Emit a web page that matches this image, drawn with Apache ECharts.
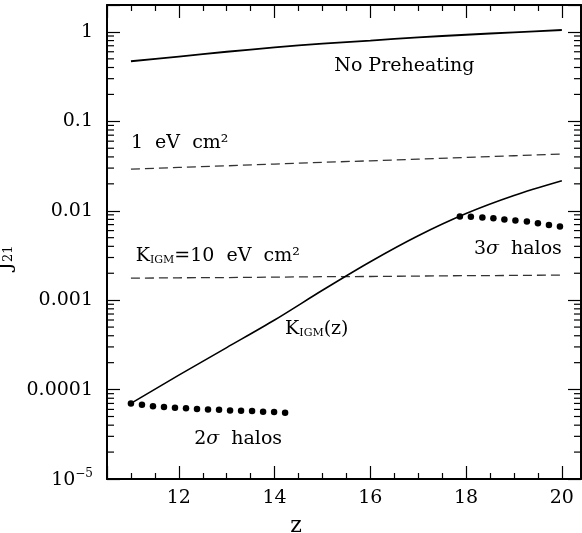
<!DOCTYPE html>
<html>
<head>
<meta charset="utf-8">
<script src="https://cdn.jsdelivr.net/npm/echarts@6/dist/echarts.min.js"></script>
<style>
  html, body { margin: 0; padding: 0; background: #fff; }
  #main { width: 582px; height: 533px; }
</style>
</head>
<body>
<div id="main"></div>
<script>
// redshift grid for the continuous curves
var zGrid = [11, 12, 13, 14, 15, 16, 17, 18, 19, 20];
var noPreheat = [0.47, 0.53, 0.60, 0.67, 0.74, 0.80, 0.87, 0.93, 0.99, 1.05];
var oneEv = [0.0292, 0.0305, 0.0318, 0.0333, 0.0348, 0.0362, 0.0378, 0.0395, 0.0412, 0.0431];
var tenEv = [0.00176, 0.00178, 0.00179, 0.00181, 0.00183, 0.00184, 0.00186, 0.00188, 0.00189, 0.00191];
var kIgmZ = [7.0e-5, 1.45e-4, 2.95e-4, 6.0e-4, 1.29e-3, 2.69e-3, 5.25e-3, 9.3e-3, 0.0148, 0.0216];

// halo points
var z2sig = [11.0, 11.23, 11.46, 11.69, 11.92, 12.15, 12.38, 12.61, 12.84, 13.07, 13.30, 13.53, 13.76, 13.99, 14.22];
var j2sig = [7.0e-5, 6.78e-5, 6.53e-5, 6.37e-5, 6.27e-5, 6.17e-5, 6.05e-5, 6.0e-5, 5.96e-5, 5.85e-5, 5.81e-5, 5.75e-5, 5.66e-5, 5.61e-5, 5.52e-5];
var z3sig = [17.87, 18.10, 18.34, 18.57, 18.80, 19.03, 19.27, 19.50, 19.73, 19.96];
var j3sig = [8.63e-3, 8.55e-3, 8.43e-3, 8.22e-3, 8.0e-3, 7.8e-3, 7.6e-3, 7.26e-3, 6.95e-3, 6.67e-3];

// tick labels
var xTicks = [12, 14, 16, 18, 20];
var yTickExp = [0, -1, -2, -3, -4, -5];
var yTickText = ['1', '0.1', '0.01', '0.001', '0.0001', '{b|10}{sup|\u22125}'];

var xMin = 10.5, xMax = 20.4, yMin = 1e-5, yMax = 2;
var FONT = 'DejaVu Serif';

function pairs(xs, ys) {
  return xs.map(function (x, i) { return [x, ys[i]]; });
}

// log minor ticks 2..9 in each decade
var yMinor = [];
for (var e = -5; e <= 0; e++) {
  for (var m = 2; m <= 9; m++) {
    var v = m * Math.pow(10, e);
    if (v < yMax) yMinor.push([xMin, v]);
  }
}

var chart = echarts.init(document.getElementById('main'));

function xAxisCfg(pos) {
  return {
    type: 'value', position: pos, min: xMin, max: xMax, splitNumber: 5,
    axisLine: { onZero: false, lineStyle: { color: '#000', width: 2 } },
    axisTick: { inside: true, length: 13, lineStyle: { color: '#000', width: 1.2 } },
    minorTick: { show: true, splitNumber: 4, length: 6, lineStyle: { color: '#000', width: 1.2 } },
    splitLine: { show: false },
    axisLabel: {
      show: pos === 'bottom', margin: 10, color: '#000', fontFamily: FONT, fontSize: 19,
      formatter: function (v) { return xTicks.indexOf(Math.round(v * 100) / 100) >= 0 ? String(v) : ''; }
    }
  };
}

function yAxisCfg(pos) {
  return {
    type: 'log', logBase: 10, position: pos, min: yMin, max: yMax,
    axisLine: { onZero: false, lineStyle: { color: '#000', width: 2 } },
    axisTick: { inside: true, length: 13, lineStyle: { color: '#000', width: 1.2 } },
    splitLine: { show: false },
    axisLabel: {
      show: pos === 'left', margin: 14, color: '#000', fontFamily: FONT, fontSize: 19,
      formatter: function (v) {
        var ex = Math.log10(v);
        var r = Math.round(ex);
        if (Math.abs(ex - r) > 1e-6) return '';
        var i = yTickExp.indexOf(r);
        return i >= 0 ? yTickText[i] : '';
      },
      rich: {
        b: { fontFamily: FONT, fontSize: 19, color: '#000', lineHeight: 22, verticalAlign: 'bottom' },
        sup: { fontFamily: FONT, fontSize: 12, color: '#000', lineHeight: 13, verticalAlign: 'top' }
      }
    }
  };
}

var xb = xAxisCfg('bottom');
xb.name = 'z';
xb.nameLocation = 'middle';
xb.nameGap = 36;
xb.nameTextStyle = { fontFamily: FONT, fontSize: 22, color: '#000', padding: [0, 96, 0, 0] };

var yl = yAxisCfg('left');
yl.name = '{j|J}{s|21}';
yl.nameLocation = 'middle';
yl.nameGap = 80;
yl.nameTextStyle = {
  padding: [0, 32, 0, 0],
  rich: {
    j: { fontFamily: FONT, fontSize: 21, color: '#000', lineHeight: 26, verticalAlign: 'bottom' },
    s: { fontFamily: FONT, fontSize: 13, color: '#000', lineHeight: 16, verticalAlign: 'bottom' }
  }
};

var solid = { color: '#000', width: 1.6 };
var dashed = { color: '#333', width: 1.3, type: [9, 5] };
var dot = { color: '#000', opacity: 1 };

chart.setOption({
  animation: false,
  backgroundColor: '#fff',
  grid: { left: 107, top: 5, right: 1, bottom: 54, outerBoundsMode: 'none', containLabel: false },
  xAxis: [xb, xAxisCfg('top')],
  yAxis: [yl, yAxisCfg('right')],
  series: [
    { type: 'line', data: pairs(zGrid, noPreheat), showSymbol: false, smooth: 0.3, lineStyle: { color: '#000', width: 1.8 } },
    { type: 'line', data: pairs(zGrid, oneEv), showSymbol: false, lineStyle: dashed },
    { type: 'line', data: pairs(zGrid, tenEv), showSymbol: false, lineStyle: dashed },
    { type: 'line', data: pairs(zGrid, kIgmZ), showSymbol: false, smooth: 0.3, lineStyle: solid },
    { type: 'scatter', data: pairs(z2sig, j2sig), symbolSize: 6.5, itemStyle: dot },
    { type: 'scatter', data: pairs(z3sig, j3sig), symbolSize: 6.5, itemStyle: dot },
    {
      type: 'custom', data: yMinor, silent: true, clip: false, z: 5,
      renderItem: function (params, api) {
        var v = api.value(1);
        var pl = api.coord([xMin, v]);
        var pr = api.coord([xMax, v]);
        var st = { stroke: '#000', lineWidth: 1.2 };
        return {
          type: 'group',
          children: [
            { type: 'line', shape: { x1: pl[0], y1: pl[1], x2: pl[0] + 7, y2: pl[1] }, style: st },
            { type: 'line', shape: { x1: pr[0], y1: pr[1], x2: pr[0] - 7, y2: pr[1] }, style: st }
          ]
        };
      }
    }
  ]
});

// annotations anchored in data space
var notes = [
  { text: 'No Preheating', at: [16.71, 0.416], align: 'center' },
  { text: '1  eV  cm\u00b2', at: [11.0, 0.0571], align: 'left' },
  { text: '{n|K}{sub|IGM}{n|=10  eV  cm\u00b2}', at: [11.1, 0.00335], align: 'left' },
  { text: '{n|3}{i|\u03c3}{n|  halos}', at: [20.0, 0.00402], align: 'right' },
  { text: '{n|K}{sub|IGM}{n|(z)}', at: [14.22, 5.1e-4], align: 'left' },
  { text: '{n|2}{i|\u03c3}{n|  halos}', at: [12.32, 2.99e-5], align: 'left' }
];
var richStyles = {
  n: { fontFamily: FONT, fontSize: 19, fill: '#000', lineHeight: 24, verticalAlign: 'bottom' },
  i: { fontFamily: FONT, fontSize: 19, fontStyle: 'italic', fill: '#000', lineHeight: 24, verticalAlign: 'bottom' },
  sub: { fontFamily: FONT, fontSize: 11, fill: '#000', lineHeight: 17, verticalAlign: 'bottom' }
};
chart.setOption({
  graphic: notes.map(function (n) {
    var p = chart.convertToPixel({ xAxisIndex: 0, yAxisIndex: 0 }, n.at);
    return {
      type: 'text', x: p[0], y: p[1], z: 10, silent: true,
      style: {
        text: n.text, align: n.align, verticalAlign: 'middle',
        fontFamily: FONT, fontSize: 19, fill: '#000', rich: richStyles
      }
    };
  })
});
</script>
</body>
</html>
